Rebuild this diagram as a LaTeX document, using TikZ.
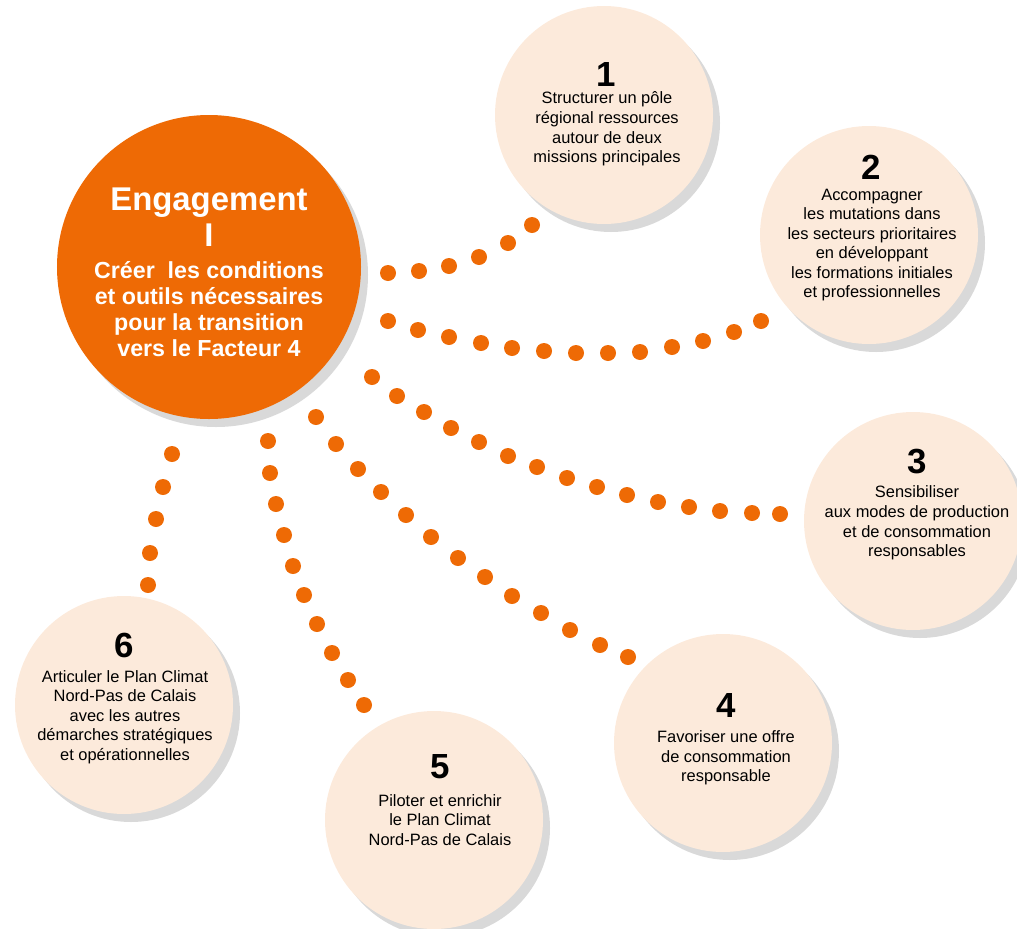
\documentclass[tikz,border=0pt]{standalone}
\usepackage{fontspec}
\setmainfont{Liberation Sans}
\usetikzlibrary{shadows}
\definecolor{orng}{HTML}{EE6A05}
\definecolor{peach}{HTML}{FCEADB}
\definecolor{shade}{HTML}{D9D9D9}
\tikzset{
  bubble/.style={circle, fill=peach, minimum size=218bp, inner sep=0pt,
    drop shadow={fill=shade, opacity=1, shadow xshift=7bp, shadow yshift=-8bp}},
  bigbubble/.style={circle, fill=orng, minimum size=304bp, inner sep=0pt,
    drop shadow={fill=shade, opacity=1, shadow xshift=7bp, shadow yshift=-8bp}},
  numlbl/.style={font=\fontsize{35}{35}\selectfont\bfseries, text=black, inner sep=0pt},
  bodytxt/.style={font=\fontsize{16.5}{19.6}\selectfont, text=black, align=center, inner sep=0pt},
  titletxt/.style={font=\fontsize{33}{36}\selectfont\bfseries, text=white, align=center, inner sep=0pt},
  subtxt/.style={font=\fontsize{23.3}{26.3}\selectfont\bfseries, text=white, align=center, inner sep=0pt},
  dot/.style={fill=orng}
}
\begin{document}
\begin{tikzpicture}[x=1bp,y=-1bp]
\useasboundingbox (0,0) rectangle (1017,929);

% bubbles
\node[bigbubble] (main) at (209,267) {};
\node[bubble] (c1) at (604,115) {};
\node[bubble] (c2) at (869,235) {};
\node[bubble] (c3) at (913,521) {};
\node[bubble] (c4) at (723,743) {};
\node[bubble] (c5) at (434,820) {};
\node[bubble] (c6) at (124,705) {};

% main text
\node[titletxt] (mt) at (209,217) {Engagement\\I};
\node[subtxt] (ms) at (209,309) {Créer~ les conditions\\et outils nécessaires\\pour la transition\\vers le Facteur 4};

% numbers and texts
\node[numlbl] (n1) at (606,75) {1};
\node[bodytxt] (t1) at (607,129) {Structurer un pôle\\régional ressources\\autour de deux\\missions principales};
\node[numlbl] (n2) at (871,167) {2};
\node[bodytxt] (t2) at (872,245) {Accompagner\\les mutations dans\\les secteurs prioritaires\\en développant\\les formations initiales\\et professionnelles};
\node[numlbl] (n3) at (917,462) {3};
\node[bodytxt] (t3) at (917,523) {Sensibiliser\\aux modes de production\\et de consommation\\responsables};
\node[numlbl] (n4) at (726,705) {4};
\node[bodytxt] (t4) at (726,758) {Favoriser une offre\\de consommation\\responsable};
\node[numlbl] (n5) at (440,767) {5};
\node[bodytxt] (t5) at (440,820) {Piloter et enrichir\\le Plan Climat\\Nord-Pas de Calais};
\node[numlbl] (n6) at (124,645) {6};
\node[bodytxt] (t6) at (125,717) {Articuler le Plan Climat\\Nord-Pas de Calais\\avec les autres\\démarches stratégiques\\et opérationnelles};

% dotted connectors main -> bubbles
\foreach \p in {(388,273),(419,271),(449,266),(479,257),(508,243),(532,225)}
  \fill[dot] \p circle (8bp);
\foreach \p in {(388,321),(418,330),(449,337),(481,343),(512,348),(544,351),(576,353),(608,353),(640,352),(672,347),(703,341),(734,332),(761,321)}
  \fill[dot] \p circle (8bp);
\foreach \p in {(372,377),(397,396),(424,412),(451,428),(479,442),(508,456),(537,467),(567,478),(597,487),(627,495),(658,502),(689,507),(720,511),(752,513),(780,514)}
  \fill[dot] \p circle (8bp);
\foreach \p in {(316,417),(336,444),(358,469),(381,492),(406,515),(431,537),(458,558),(485,577),(512,596),(541,613),(570,630),(600,645),(628,657)}
  \fill[dot] \p circle (8bp);
\foreach \p in {(268,441),(270,473),(276,504),(284,535),(293,566),(304,595),(317,624),(332,653),(348,680),(364,705)}
  \fill[dot] \p circle (8bp);
\foreach \p in {(172,454),(163,487),(156,519),(150,553),(148,585)}
  \fill[dot] \p circle (8bp);
\end{tikzpicture}
\end{document}
